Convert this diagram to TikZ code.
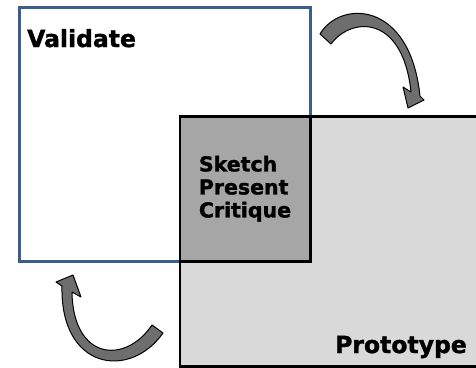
\documentclass[tikz,border=0pt]{standalone}
\usepackage{fontspec}
\setmainfont{DejaVu Sans}
\newfontfamily\heavyfont{DejaVu Sans Bold}[FakeBold=1.4]
\usetikzlibrary{positioning}
\definecolor{validateblue}{HTML}{3B5E8C}
\definecolor{protogray}{HTML}{D9D9D9}
\definecolor{coregray}{HTML}{A6A6A6}
\definecolor{arrowgray}{HTML}{6E6E6E}

\begin{document}
\begin{tikzpicture}[x=1pt,y=-1pt,
	phase/.style={draw,line width=2.5pt,inner sep=0pt,anchor=north west},
	title/.style={font=\heavyfont\fontsize{23.5}{26}\selectfont,inner sep=0pt},
	cyclearrow/.style={fill=arrowgray,draw=black,line width=1pt,line join=round}]
	\useasboundingbox (0,0) rectangle (476,367);
	\node[phase,draw=validateblue,fill=white,minimum width=291pt,minimum height=254pt] (validate) at (18,6) {};
	\node[phase,fill=protogray,minimum width=310pt,minimum height=250pt] (prototype) at (178.5,115) {};
	\node[phase,fill=coregray,minimum width=130.5pt,minimum height=145pt,align=left,
		font=\heavyfont\fontsize{20.5}{23}\selectfont] (core) at (178.5,115) {Sketch\\Present\\Critique};
	\node[title,anchor=base west] (validatelabel) at (27,47) {Validate};
	\node[title,anchor=base east] (prototypelabel) at (467,353) {Prototype};
	% arrow from validate to prototype
	\path[cyclearrow] (320,34) .. controls (340,0) and (410,0) .. (420,96)
		-- (424,100) -- (408,108) -- (403,87) -- (411,92)
		.. controls (403,15) and (352,16) .. (331,44) -- cycle;
	% arrow from prototype back to validate
	\path[cyclearrow] (163,333) .. controls (130,380) and (60,370) .. (62,286)
		-- (56,282) -- (73,275) -- (81,297) -- (72,292)
		.. controls (73,360) and (125,365) .. (152,325) -- cycle;
\end{tikzpicture}
\end{document}
